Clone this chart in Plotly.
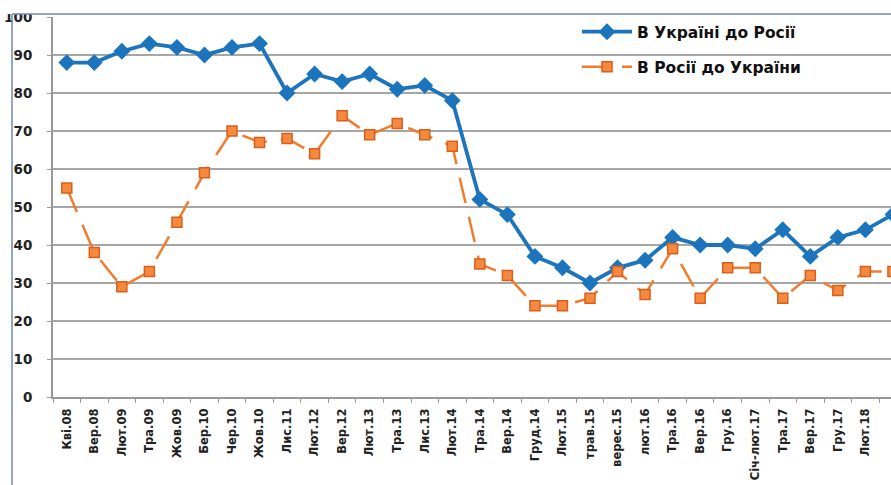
import plotly.graph_objects as go

categories = ["Кві.08", "Вер.08", "Лют.09", "Тра.09", "Жов.09", "Бер.10", "Чер.10", "Жов.10",
              "Лис.11", "Лют.12", "Вер.12", "Лют.13", "Тра.13", "Лис.13", "Лют.14", "Тра.14",
              "Вер.14", "Груд.14", "Лют.15", "трав.15", "верес.15", "лют.16", "Тра.16", "Вер.16",
              "Гру.16", "Січ-лют.17", "Тра.17", "Вер.17", "Гру.17", "Лют.18", "Вер.18"]
ukraine_to_russia = [88, 88, 91, 93, 92, 90, 92, 93, 80, 85, 83, 85, 81, 82, 78, 52,
                     48, 37, 34, 30, 34, 36, 42, 40, 40, 39, 44, 37, 42, 44, 48]
russia_to_ukraine = [55, 38, 29, 33, 46, 59, 70, 67, 68, 64, 74, 69, 72, 69, 66, 35,
                     32, 24, 24, 26, 33, 27, 39, 26, 34, 34, 26, 32, 28, 33, 33]
y_ticks = [0, 10, 20, 30, 40, 50, 60, 70, 80, 90, 100]

blue = "#1c75bc"
orange = "#f07c2e"

fig = go.Figure()
fig.add_trace(go.Scatter(
    x=categories, y=ukraine_to_russia, name="В Україні до Росії",
    mode="lines+markers", legendgroup="a",
    line=dict(color=blue, width=3.8),
    marker=dict(symbol="diamond", size=13, color=blue),
))
fig.add_trace(go.Scatter(
    x=categories, y=russia_to_ukraine, name="В Росії до України",
    mode="lines+markers", legendgroup="b",
    line=dict(color=orange, width=2.5, dash="26px,14px"),
    marker=dict(symbol="square", size=10, color="#f4893f", line=dict(color="#d9601a", width=1.5)),
))

font_family = "DejaVu Sans, Verdana, sans-serif"
fig.update_layout(
    width=891, height=485,
    margin=dict(l=53, r=0, t=17, b=88),
    paper_bgcolor="white", plot_bgcolor="white",
    showlegend=True,
    legend=dict(x=0.6253, y=1.005, xanchor="left", yanchor="top",
                bgcolor="rgba(0,0,0,0)",
                font=dict(family=font_family, size=15.5, color="#111", weight="bold"),
                tracegroupgap=12, traceorder="grouped", itemwidth=50),
    xaxis=dict(type="category", range=[-0.5, 29.93], tickangle=-90, automargin=False,
               tickfont=dict(family=font_family, size=11.5, color="#222", weight="bold"),
               showgrid=False, showline=True, linecolor="#999", linewidth=2,
               ticks="outside", tickson="boundaries", ticklen=4, tickcolor="#999",
               ticklabelstandoff=5),
    yaxis=dict(range=[0, 100], tickvals=y_ticks, showgrid=True, gridcolor="#a6a6a6", gridwidth=2,
               automargin=False,
               tickfont=dict(family=font_family, size=13.5, color="#222", weight="bold"),
               showline=True, linecolor="#999", linewidth=2, zeroline=False,
               ticks="outside", ticklen=4, tickcolor="#999", ticklabelstandoff=12),
    shapes=[
        dict(type="rect", xref="paper", yref="paper", x0=-53/838, x1=1.0, y0=1 + 3/380, y1=1 + 17/380,
             fillcolor="white", line=dict(width=0), layer="above"),
        dict(type="line", xref="paper", yref="paper", x0=-41/838, x1=1.01, y0=1 + 3/380, y1=1 + 3/380,
             line=dict(color="#6d8aa8", width=1.5), layer="above"),
        dict(type="line", xref="paper", yref="paper", x0=-41/838, x1=-41/838, y0=-88/380, y1=1 + 3/380,
             line=dict(color="#6d8aa8", width=1.5), layer="above"),
    ],
)
fig.update_layout(font=dict(family=font_family))
fig.write_html("out.html", post_script="document.body.style.margin='0px';",
               config={"displayModeBar": False})
